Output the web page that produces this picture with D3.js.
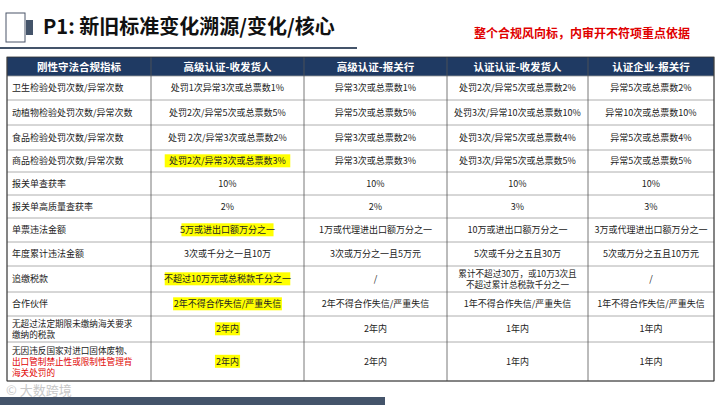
<!DOCTYPE html>
<html><head><meta charset="utf-8">
<script src="https://cdn.jsdelivr.net/npm/d3@7"></script>
<style>body{margin:0;background:#fff;font-family:"Noto Sans CJK SC","Noto Sans",sans-serif}</style>
</head><body><svg id="c" width="720" height="405"></svg>
<script>
const headers = ["刚性守法合规指标","高级认证-收发货人","高级认证-报关行","认证认证-收发货人","认证企业-报关行"];
const rowLabels = ["卫生检验处罚次数/异常次数","动植物检验处罚次数/异常次数","食品检验处罚次数/异常次数","商品检验处罚次数/异常次数","报关单查获率","报关单高质量查获率","单票违法金额","年度累计违法金额","追缴税款","合作伙伴","无超过法定期限未缴纳海关要求\n缴纳的税款","无因违反国家对进口固体废物、\n出口管制禁止性或限制性管理背\n海关处罚的"];
const col1 = ["处罚1次异常3次或总票数1%","处罚2次/异常5次或总票数5%","处罚 2次/异常3次或总票数2%","处罚2次/异常3次或总票数3%","10%","2%","5万或进出口额万分之一","3次或千分之一且10万","不超过10万元或总税款千分之一","2年不得合作失信/严重失信","2年内","2年内"];
const col2 = ["异常3次或总票数1%","异常5次或总票数5%","异常3次或总票数2%","异常3次或总票数3%","10%","2%","1万或代理进出口额万分之一","3次或万分之一且5万元","/","2年不得合作失信/严重失信","2年内","2年内"];
const col3 = ["处罚2次/异常5次或总票数2%","处罚3次/异常10次或总票数10%","处罚3次/异常5次或总票数4%","处罚3次/异常5次或总票数5%","10%","3%","10万或进出口额万分之一","5次或千分之五且30万","累计不超过30万，或10万3次且\n不超过累计总税款千分之一","1年不得合作失信/严重失信","1年内","1年内"];
const col4 = ["异常5次或总票数2%","异常10次或总票数10%","异常5次或总票数4%","异常5次或总票数5%","10%","3%","3万或代理进出口额万分之一","5次或万分之五且10万元","/","1年不得合作失信/严重失信","1年内","1年内"];
const highlightRows = [3,6,8,9,10,11]; // column 1 highlighted
const colEdges = [7,151,304,447,588,714];
const rowEdges = [57,76,100,125,150,172,195,218,242,266,292,316,342,381];

const svg = d3.select("#c");
const x = i => colEdges[i];
const y = d3.scaleOrdinal().domain(d3.range(rowEdges.length)).range(rowEdges);

// title
svg.append("rect").attr("x",6).attr("y",13).attr("width",19).attr("height",29).attr("fill","none").attr("stroke","#4a5568").attr("stroke-width",1);
svg.append("rect").attr("x",26).attr("y",20).attr("width",7).attr("height",15).attr("fill","#44546a");
svg.append("text").attr("x",43).attr("y",34).attr("font-size",20).attr("font-weight",700).attr("fill","#111").text("P1: 新旧标准变化溯源/变化/核心");
svg.append("line").attr("x1",0).attr("x2",357).attr("y1",48).attr("y2",48).attr("stroke","#44546a").attr("stroke-width",2);
svg.append("text").attr("x",690).attr("y",38).attr("text-anchor","end").attr("font-size",12).attr("font-weight",700).attr("fill","#e00000").text("整个合规风向标，内审开不符项重点依据");

// header
svg.append("rect").attr("x",x(0)).attr("y",y(0)).attr("width",x(5)-x(0)).attr("height",y(1)-y(0)).attr("fill","#1f3a63");
headers.forEach((h,i)=>{
  svg.append("text").attr("x",(x(i)+x(i+1))/2).attr("y",(y(0)+y(1))/2+4).attr("text-anchor","middle")
    .attr("font-size",10.5).attr("font-weight",700).attr("fill","#fff").text(h);
});

const cols = [rowLabels,col1,col2,col3,col4];
const fs = 9;
rowLabels.forEach((_,r)=>{
  const y0 = y(r+1), y1 = y(r+2), cy=(y0+y1)/2;
  cols.forEach((col,c)=>{
    const lines = col[r].split("\n");
    const lh = 11;
    const f = lines.length>1 ? 8.6 : fs;
    lines.forEach((ln,k)=>{
      const ty = cy + (k-(lines.length-1)/2)*lh + 3.3;
      const left = c===0;
      const tx = left ? x(0)+5 : (x(c)+x(c+1))/2;
      if(c===1 && highlightRows.includes(r)){
        const w = ln.length*fs*0.93;
        svg.append("rect").attr("x",tx-w/2).attr("y",ty-10).attr("width",w).attr("height",13).attr("fill","#ffff00");
      }
      const red = c===0 && r===11 && k>0;
      svg.append("text").attr("x",tx).attr("y",ty).attr("text-anchor",left?"start":"middle")
        .attr("font-size",f).attr("fill",red?"#e00000":"#222").text(ln);
    });
  });
});

// grid
const g = svg.append("g").attr("stroke","#555").attr("stroke-width",0.8);
rowEdges.forEach((v,i)=>{ if(i>0) g.append("line").attr("x1",x(0)).attr("x2",x(5)).attr("y1",v).attr("y2",v).attr("stroke",i===rowEdges.length-1?"#555":"#999"); });
colEdges.forEach(v=>g.append("line").attr("x1",v).attr("x2",v).attr("y1",y(0)).attr("y2",rowEdges[rowEdges.length-1]));
g.append("rect").attr("x",x(0)).attr("y",y(0)).attr("width",x(5)-x(0)).attr("height",rowEdges[rowEdges.length-1]-y(0)).attr("fill","none").attr("stroke","#333");

// watermark + bottom bar
svg.append("text").attr("x",6).attr("y",395).attr("font-size",13).attr("fill","#c8c8c8").text("© 大数跨境");
svg.append("rect").attr("x",0).attr("y",397).attr("width",385).attr("height",8).attr("fill","#44546a");
</script></body></html>
